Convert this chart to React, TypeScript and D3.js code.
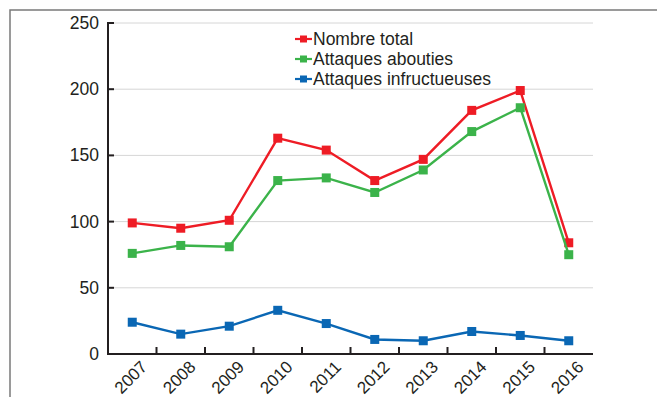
import * as d3 from 'd3';

// values
const years = ['2007', '2008', '2009', '2010', '2011', '2012', '2013', '2014', '2015', '2016'];
const totalAttacks = [99, 95, 101, 163, 154, 131, 147, 184, 199, 84];
const successfulAttacks = [76, 82, 81, 131, 133, 122, 139, 168, 186, 75];
const failedAttacks = [24, 15, 21, 33, 23, 11, 10, 17, 14, 10];
const yTicks = [0, 50, 100, 150, 200, 250];

const series = [
  { name: 'Nombre total', values: totalAttacks, color: '#ee1c25' },
  { name: 'Attaques abouties', values: successfulAttacks, color: '#3bb34a' },
  { name: 'Attaques infructueuses', values: failedAttacks, color: '#0a67b4' },
];

const W = 657;
const H = 397;
const left = 108;
const right = 593;
const top = 23;
const bottom = 354;
const font = '"Liberation Sans", Arial, Helvetica, sans-serif';
const ink = '#231f20';

export default function App() {
  const x = d3.scaleBand().domain(years).range([left, right]).padding(0);
  const y = d3.scaleLinear().domain([0, 250]).range([bottom, top]);
  const cx = (d: string) => (x(d) ?? 0) + x.bandwidth() / 2;

  const line = d3
    .line<number>()
    .x((_, i) => cx(years[i]))
    .y((v) => y(v));

  const sq = 9;

  return (
    <svg
      width={W}
      height={H}
      style={{ position: 'absolute', left: 0, top: 0, background: '#fff' }}
      fontFamily={font}
    >
      {/* frame */}
      <path d={`M10,${H} V10 H${W}`} fill="none" stroke="#7a7a7a" strokeWidth={1.5} />

      {/* grid */}
      {yTicks.slice(1).map((t) => (
        <line key={t} x1={left} x2={right} y1={y(t)} y2={y(t)} stroke="#d6d6d6" strokeWidth={1} />
      ))}

      {/* y axis */}
      <line x1={left} x2={left} y1={top - 1} y2={bottom + 1} stroke={ink} strokeWidth={2} />
      {yTicks.map((t) => (
        <g key={t}>
          <line x1={left} x2={left + 6} y1={y(t)} y2={y(t)} stroke={ink} strokeWidth={2} />
          <text x={left - 9} y={y(t) + 6} textAnchor="end" fontSize={17.5} fill={ink}>
            {t}
          </text>
        </g>
      ))}

      {/* x axis */}
      <line x1={left} x2={right} y1={bottom} y2={bottom} stroke={ink} strokeWidth={2} />
      {years.slice(1).map((yr) => (
        <line
          key={yr}
          x1={x(yr)}
          x2={x(yr)}
          y1={bottom}
          y2={bottom - 7}
          stroke={ink}
          strokeWidth={2}
        />
      ))}
      {years.map((yr) => (
        <text
          key={yr}
          transform={`translate(${cx(yr) + 16},${bottom + 14}) rotate(-45)`}
          textAnchor="end"
          fontSize={17}
          fill={ink}
        >
          {yr}
        </text>
      ))}

      {/* series */}
      {series.map((s) => (
        <g key={s.name}>
          <path d={line(s.values) ?? ''} fill="none" stroke={s.color} strokeWidth={2.4} />
          {s.values.map((v, i) => (
            <rect
              key={i}
              x={cx(years[i]) - sq / 2}
              y={y(v) - sq / 2}
              width={sq}
              height={sq}
              fill={s.color}
            />
          ))}
        </g>
      ))}

      {/* legend */}
      {series.map((s, i) => (
        <g key={s.name} transform={`translate(295,${39 + i * 20})`}>
          <line x1={0} x2={17} y1={0} y2={0} stroke={s.color} strokeWidth={2.2} />
          <rect x={8.5 - 3.5} y={-3.5} width={7} height={7} fill={s.color} />
          <text x={18} y={6} fontSize={17.5} fill={ink}>
            {s.name}
          </text>
        </g>
      ))}
    </svg>
  );
}
